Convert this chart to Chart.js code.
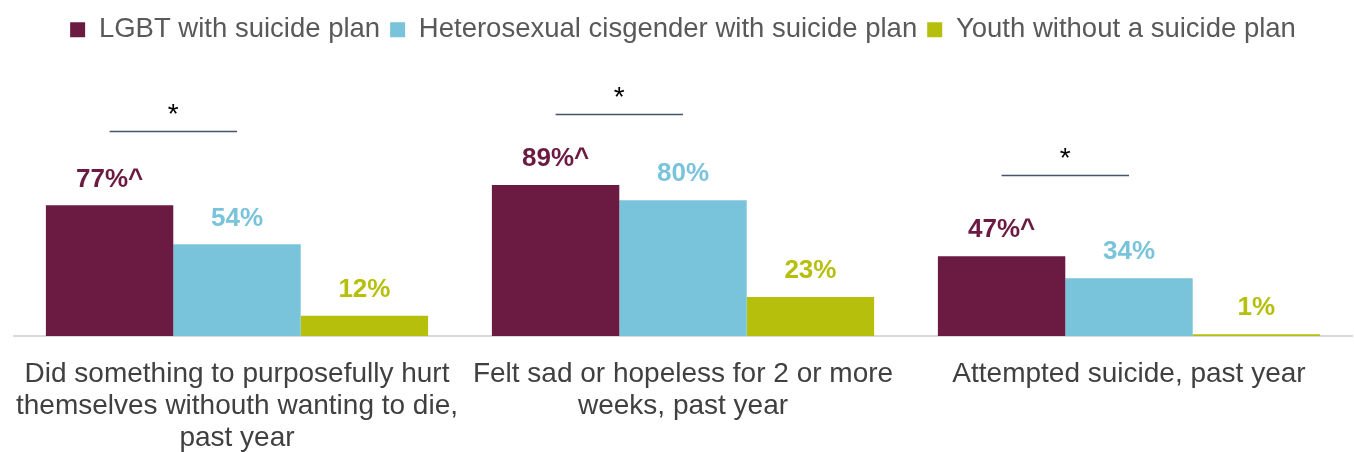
<!DOCTYPE html>
<html>
<head>
<meta charset="utf-8">
<script src="https://cdn.jsdelivr.net/npm/chart.js@4"></script>
<style>
  html, body { margin: 0; padding: 0; background: #fff; }
  #wrap { width: 1354px; height: 452px; position: relative; }
</style>
</head>
<body>
<div id="wrap"><canvas id="c"></canvas></div>
<script>
const categories = [
  ['Did something to purposefully hurt', 'themselves withouth wanting to die,', 'past year'],
  ['Felt sad or hopeless for 2 or more', 'weeks, past year'],
  ['Attempted suicide, past year']
];
const seriesNames = ['LGBT with suicide plan', 'Heterosexual cisgender with suicide plan', 'Youth without a suicide plan'];
const lgbtValues = [77, 89, 47];
const heteroValues = [54, 80, 34];
const youthValues = [12, 23, 1];
const lgbtMarks = ['^', '^', '^'];
const sigLevels = [121, 131, 95];
const sigMarks = ['*', '*', '*'];

const colors = ['#6B1B41', '#7AC4DB', '#B6BF0C'];
const FONT = '"Liberation Sans", Arial, sans-serif';

const labelPlugin = {
  id: 'valueLabels',
  afterDatasetsDraw(chart) {
    const ctx = chart.ctx;
    ctx.save();
    ctx.textAlign = 'center';
    ctx.textBaseline = 'middle';
    chart.data.datasets.forEach((ds, di) => {
      const meta = chart.getDatasetMeta(di);
      meta.data.forEach((bar, i) => {
        const suffix = di === 0 ? lgbtMarks[i] : '';
        ctx.font = 'bold 26px "Liberation Sans", Arial, sans-serif';
        ctx.fillStyle = colors[di];
        ctx.fillText(ds.data[i] + '%' + suffix, bar.x, bar.y - 26);
      });
    });
    const m0 = chart.getDatasetMeta(0), m1 = chart.getDatasetMeta(1);
    const yScale = chart.scales.y;
    sigLevels.forEach((lvl, i) => {
      const x1 = m0.data[i].x, x2 = m1.data[i].x;
      const y = Math.round(yScale.getPixelForValue(lvl)) + 0.5;
      ctx.strokeStyle = '#44546A';
      ctx.lineWidth = 1.3;
      ctx.beginPath();
      ctx.moveTo(x1, y);
      ctx.lineTo(x2, y);
      ctx.stroke();
      ctx.fillStyle = '#000';
      ctx.font = '28px "Liberation Sans", Arial, sans-serif';
      ctx.fillText(sigMarks[i], (x1 + x2) / 2, y - 16);
    });
    ctx.restore();
  }
};

new Chart(document.getElementById('c'), {
  type: 'bar',
  data: {
    labels: categories,
    datasets: [
      { label: seriesNames[0], data: lgbtValues, backgroundColor: colors[0] },
      { label: seriesNames[1], data: heteroValues, backgroundColor: colors[1] },
      { label: seriesNames[2], data: youthValues, backgroundColor: colors[2] }
    ]
  },
  options: {
    responsive: true,
    maintainAspectRatio: false,
    animation: false,
    layout: { padding: { left: 14, right: 2, top: 6, bottom: -24 } },
    datasets: { bar: { categoryPercentage: 0.857, barPercentage: 1.0 } },
    plugins: {
      legend: {
        position: 'top',
        labels: {
          boxWidth: 15, boxHeight: 15, padding: 10,
          color: '#595959',
          font: { family: FONT, size: 27.5 }
        }
      },
      tooltip: { enabled: false }
    },
    scales: {
      x: {
        grid: { display: false, drawTicks: false },
        border: { display: true, color: '#D9D9D9', width: 2 },
        ticks: {
          color: '#404040',
          font: { family: FONT, size: 28, lineHeight: 1.143 },
          padding: 22,
          maxRotation: 0, autoSkip: false
        },
        afterFit(scale) { scale.paddingLeft = 0; scale.paddingRight = 0; }
      },
      y: {
        display: false,
        min: 0,
        max: 166.5
      }
    }
  },
  plugins: [labelPlugin]
});
</script>
</body>
</html>
